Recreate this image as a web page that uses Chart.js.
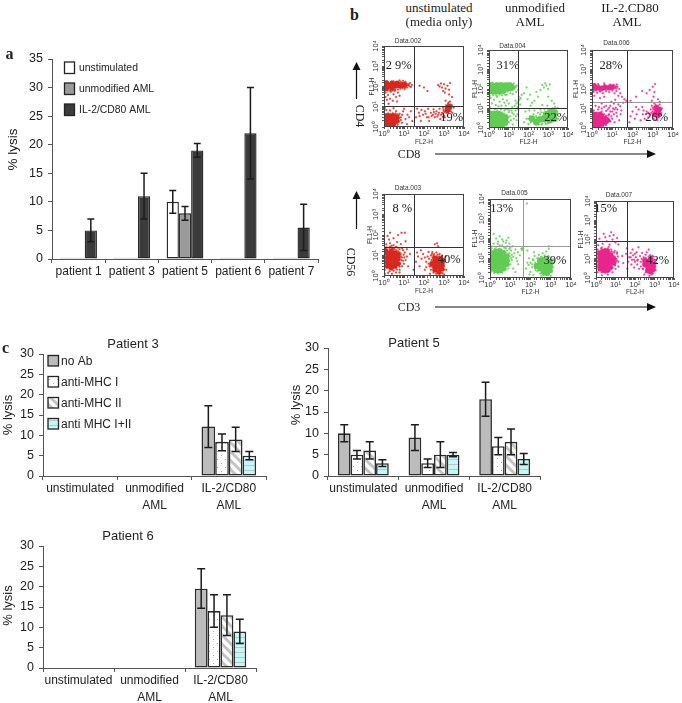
<!DOCTYPE html>
<html><head><meta charset="utf-8">
<script src="https://cdn.jsdelivr.net/npm/chart.js@4"></script>
<style>
html,body{margin:0;padding:0;background:#fff}
#page{position:relative;width:682px;height:703px;overflow:hidden;background:#fff}
canvas{position:absolute}
.t{position:absolute;white-space:nowrap;color:#222;transform:translate(-50%,-50%);line-height:1}
.serif{font-family:"Liberation Serif",serif}
.sans{font-family:"Liberation Sans",sans-serif}
</style></head><body><div id="page"></div>
<script>
// ---------- Panel a ----------
const patientsA = ['patient 1','patient 3','patient 5','patient 6','patient 7'];
const seriesA = ['unstimulated','unmodified AML','IL-2/CD80 AML'];
const unstimA = [0,0,10,0,0];
const unstimALow = [null,null,8,null,null];
const unstimAHigh = [null,null,12,null,null];
const unmodA = [0,0,8,0,0];
const unmodALow = [null,null,6.8,null,null];
const unmodAHigh = [null,null,9.2,null,null];
const il2A = [5,11,19,22,5.5];
const il2ALow = [3,7,17.8,14,1.5];
const il2AHigh = [7,15,20.2,30,9.6];
// ---------- Panel c ----------
const groupsC = ['unstimulated',['unmodified','AML'],['IL-2/CD80','AML']];
const seriesC = ['no Ab','anti-MHC I','anti-MHC II','anti MHC I+II'];
const p3Vals = [[null,null,12.2],[null,null,8.4],[null,null,9],[null,null,5]];
const p3Low  = [[null,null,7],[null,null,6.2],[null,null,6],[null,null,4]];
const p3High = [[null,null,17.3],[null,null,10.3],[null,null,12],[null,null,6]];
const p5Vals = [[10,9,18],[5,3,7],[6,5,8],[3,5,4]];
const p5Low  = [[8,6,14],[4,2,5],[4,2,5],[2.2,4.5,2.7]];
const p5High = [[12,12,22],[6,4,9],[8,8,11],[3.8,5.5,5.3]];
const p6Vals = [[null,null,19.5],[null,null,14],[null,null,13],[null,null,9]];
const p6Low  = [[null,null,14.7],[null,null,10],[null,null,8],[null,null,6]];
const p6High = [[null,null,24.4],[null,null,18],[null,null,18],[null,null,12]];
// ---------- Panel b: flow cytometry events [FL2-H, FL1-H] ----------
const gatesX = [32,28,54,32,45,38];
const gatesY = [10.5,10.5,21,25,43,80];
const core1 = [[1.3,110],[1.9,110],[2.7,110],[3.8,110],[5.4,115],[7.5,115],[10,120],[1.3,80],[2.5,85],[1.3,150],[2.5,140],[4.5,140],[1.3,1.5],[1.3,2.4],[1.3,3.5],[2,1.4],[2,2.4],[2,3.5],[3,1.5],[3,2.5],[3,3.5],[4.2,2],[4.2,3],[1800,10],[1500,7]];
const dots1 = [[16,130],[20,150],[25,120],[14,90],[18,105],[12,170],[9,190],[6,200],[3,180],[1.5,170],[22,95],[11,75],[1.2,50],[1.6,38],[2.2,55],[3,42],[4,30],[2,25],[1.4,22],[2.8,20],[5,50],[3.5,60],[1.2,30],[6,35],[4.5,18],[1.7,14],[5.5,2],[7,3],[8,1.6],[6,4.5],[9,6],[12,2.5],[15,4],[10,8],[4,6],[2,6.5],[1.3,7],[3,8.5],[18,3],[22,6],[1.1,9],[14,1.4],[26,2],[40,3],[55,5],[70,2],[90,4],[110,6],[140,3],[180,2],[220,5],[280,4],[350,3],[420,6],[520,4],[650,2.5],[800,5],[950,7],[1100,3],[1300,5],[1500,9],[1800,6],[2200,8],[2500,12],[1600,14],[2000,18],[1400,11],[2600,5],[3000,9],[45,8],[75,7],[160,8],[300,7.5],[1000,3.5],[600,8],[500,120],[600,100],[800,90],[1000,130],[1200,80],[900,60],[1500,110],[1800,70],[700,140],[2000,150],[100,90],[150,60],[1100,50],[60,110],[1200,20],[2500,30],[1800,40]];
const more1 = [[1.1,70],[1.5,65],[2,62],[2.8,66],[3.6,70],[5,72],[6.5,78],[8.5,85],[11,92],[13,105],[15,115],[17,125],[13,140],[10,155],[7,165],[4.5,170],[2.4,175],[1.2,130],[1.6,140],[3.2,150],[6,150],[8.5,145],[1.1,100],[3.2,90],[6,95],[1.1,1.2],[1.6,1.2],[2.4,1.2],[3.5,1.2],[4.8,1.3],[5.5,1.8],[5.8,2.8],[5.5,3.7],[4.8,4.2],[3.8,4.6],[2.7,4.8],[1.6,4.7],[1.1,4.2],[1.1,2],[7,2.2],[8,4],[60,3.5],[120,4.5],[170,3],[240,3.5],[310,5.5],[380,4.5],[460,3.3],[560,5],[720,4],[870,3.2],[1000,5.5],[1150,6],[1300,8],[1450,6.5],[1600,5],[1750,8.5],[1900,11],[2100,13],[2300,10],[1300,12],[1700,16],[2200,6],[1200,9.5],[900,9],[2000,8]];
const core2 = [[1.3,110],[1.9,110],[2.7,110],[3.8,110],[5.4,115],[7.5,115],[10,115],[14,120],[1.3,80],[2,80],[1.3,150],[2.5,150],[4,150],[7,150],[11,150],[3,80],[5,85],[1.3,1.4],[1.3,2.2],[1.3,3.4],[1.3,5],[2,1.4],[2,2.2],[2,3.4],[2,5],[3,1.4],[3,2.2],[3,3.4],[3,5],[4.5,1.6],[4.5,2.6],[4.5,4],[6.5,2],[6.5,3.4],[250,2],[400,2.8],[600,3],[900,3],[1200,2.5],[1500,4],[1200,5.5],[2000,3],[2000,6],[800,5],[1600,7.5],[150,3]];
const dots2 = [[22,120],[26,150],[30,90],[18,190],[12,60],[8,50],[4,200],[1.5,210],[16,55],[24,70],[1.2,35],[1.8,28],[2.6,40],[3.5,22],[5,30],[1.4,18],[2.2,15],[3,13],[4.2,14],[6,20],[8,26],[7,14],[1.1,12],[10,18],[20,14],[25,18],[30,22],[35,28],[28,12],[38,16],[22,25],[15,12],[32,40],[40,35],[45,50],[10,2],[12,4],[15,6],[18,3],[22,8],[25,2.5],[28,5],[11,8],[9,9],[7,9],[4,9],[2,9],[16,1.5],[30,9],[60,2],[80,3],[100,1.6],[120,4],[150,2.4],[180,5],[220,1.8],[260,3.4],[320,2.2],[380,5],[450,1.5],[520,3],[600,6],[700,2],[800,4],[900,7],[1300,9],[1700,10],[2200,12],[2800,7],[3200,3],[70,7],[110,8],[200,8],[400,9],[650,9],[3000,11],[60,60],[90,30],[120,50],[200,25],[300,40],[400,90],[500,160],[600,120],[700,200],[800,150],[1000,100],[1200,170],[1000,40],[1500,25],[250,70],[150,20],[500,15],[900,14],[2000,18],[80,120],[130,14]];
const more2 = [[1.1,60],[1.5,58],[2.2,55],[3,62],[4,60],[5.5,65],[7,70],[9,75],[12,85],[16,95],[19,110],[22,140],[16,160],[12,175],[8,180],[5,185],[2.5,185],[1.2,190],[1.1,45],[1.6,48],[2.4,46],[3.4,50],[4.6,48],[6.5,50],[1.1,6.5],[1.7,6.8],[2.4,6.6],[3.4,6.7],[4.6,6.2],[5.8,5.4],[7.8,4.6],[8.5,2.8],[7.5,1.4],[5.5,1.2],[3.5,1.15],[9.5,3.6],[10,6.5],[13,2.5],[1.1,8],[2.6,8],[6,8],[14,8],[18,5],[23,4],[100,3],[130,2],[170,3.5],[200,2.5],[240,4],[300,3.2],[330,1.5],[500,1.7],[560,4.2],[700,3.7],[750,1.6],[950,1.7],[1000,4.5],[1100,7],[1400,2.3],[1400,6.5],[1700,2.4],[1800,4.8],[2300,4.5],[2500,2.5],[2500,8],[1900,8.8],[1000,8.5],[450,6.5],[300,6]];
const core3 = [[1.3,110],[2,115],[3,110],[1.3,150],[4.5,125],[7,115],[10,125],[1.4,1.5],[1.4,2.4],[1.4,3.6],[2.1,1.5],[2.1,2.4],[2.1,3.6],[3.1,1.6],[3.1,2.5],[3.1,3.8],[4.5,2],[4.5,3],[6,2.5],[1.4,5],[2.5,5],[1300,5],[1600,8],[1900,5],[1500,11],[2100,9]];
const dots3 = [[14,120],[18,130],[22,100],[1.2,70],[1.8,65],[2.6,75],[3.5,60],[5,80],[7,70],[10,85],[13,60],[16,80],[2,180],[4,190],[8,170],[12,160],[17,170],[25,60],[30,40],[1.3,45],[2.5,35],[4,40],[20,45],[6,9],[8,14],[10,7],[12,18],[15,11],[18,9],[20,16],[25,13],[28,8],[35,20],[40,30],[50,25],[3,10],[5,14],[2,9],[1.2,8],[9,22],[14,28],[1.5,14],[3,18],[7,5],[10,3],[13,2],[17,4],[22,2.5],[26,5],[70,2],[80,4],[100,7],[130,3],[160,5],[200,9],[250,2.5],[320,5],[400,3],[500,7],[600,3.5],[700,5],[800,9],[900,14],[1100,3],[1000,7],[2500,6],[2800,10],[2200,16],[1200,18],[1700,2.5],[300,12],[150,12],[150,40],[300,80],[500,60],[700,90],[1000,130],[1200,70],[1100,40],[1300,180],[900,25],[80,25],[2200,22],[1800,30]];
const more3 = [[1.1,90],[1.6,85],[2.4,80],[3.3,90],[4.5,95],[6,100],[8.5,100],[12,105],[15,140],[11,150],[7,150],[4,155],[2.2,150],[1.1,130],[16,110],[1.1,1.2],[1.8,1.2],[2.6,1.2],[3.6,1.3],[4.8,1.4],[5.5,1.9],[6,3.3],[6.5,4.5],[5,4.3],[4,5],[3.2,5.2],[1.8,6],[1.1,6.5],[3,7],[5,7.5],[8,2.2],[9,4],[8,7],[12,5],[11,10],[7,11],[4,12],[2.2,12],[13,9],[16,6],[1000,5],[1100,9],[1200,12],[1400,4],[1400,7],[1700,5.5],[1800,11],[1800,14],[2000,7],[2300,5],[2300,11],[1400,15],[1000,11],[850,6],[1600,3.5],[2000,3.5],[1300,2.5],[600,6],[450,5],[350,8]];
const core4 = [[1.5,3],[1.5,5],[1.5,8],[1.5,13],[2.3,2.5],[2.3,4],[2.3,7],[2.3,11],[2.3,17],[3.5,3],[3.5,5],[3.5,8],[3.5,13],[5,4],[5,7],[5,11],[1.2,17],[350,2],[350,3.2],[350,5],[350,7.5],[550,1.6],[550,2.7],[550,4.3],[550,6.8],[800,2.2],[800,3.6],[800,5.6],[250,4]];
const dots4 = [[1.1,1.3],[1.6,1.4],[2.5,1.3],[4,1.5],[6,2],[8,3],[10,4],[12,6],[7,12],[9,18],[14,9],[16,3],[1.2,22],[3,22],[5,24],[8,22],[11,14],[2,27],[14,20],[20,12],[6,1.5],[1.3,35],[2,40],[3,32],[4.5,45],[7,36],[1.8,60],[3,70],[5,100],[7.5,130],[11,130],[1.5,90],[12,50],[2,130],[30,2],[40,5],[50,9],[60,3],[75,7],[90,12],[110,2],[130,5],[150,9],[170,15],[190,3],[45,14],[70,18],[220,10],[260,15],[320,12],[420,14],[600,12],[800,10],[1000,3],[1100,6],[1200,9],[1300,2],[1000,1.2],[200,1.3],[350,35],[450,40],[500,28]];
const more4 = [[1.1,2],[1.1,4],[1.1,7],[1.1,11],[1.4,19],[1.8,24],[2.6,23],[3.4,20],[4.2,18],[5,16],[6,14],[6.8,9],[7.2,6],[6.6,4],[6,2.8],[4.4,2.1],[3,1.8],[1.9,1.7],[8,8],[9,5.5],[4,27],[6,20],[9.5,11],[10.5,8],[1.3,25],[2.4,30],[220,2],[240,6],[270,8],[280,2.6],[300,1.5],[300,10],[400,1.3],[430,9],[480,11],[600,9],[700,1.4],[700,8],[850,1.4],[950,2],[950,4.5],[950,7],[600,1.2],[1050,5],[220,3],[170,4],[180,7],[130,2.7],[110,8],[250,12]];
const core5 = [[1.3,3],[1.3,5],[1.3,8],[1.3,12],[1.3,18],[2,2.5],[2,4],[2,6.5],[2,10],[2,15],[2,22],[3,2.5],[3,4],[3,6.5],[3,10],[3,15],[3,22],[4.5,3],[4.5,5],[4.5,8],[4.5,12],[4.5,18],[6.5,5],[6.5,8],[6.5,12],[300,3],[300,5],[300,7.5],[450,2],[450,3],[450,5],[450,8],[650,1.8],[650,2.8],[650,4.5],[650,7],[900,2.5],[900,4],[200,4],[900,6.5]];
const dots5 = [[8,3],[10,5],[12,8],[14,12],[16,18],[9,18],[11,25],[7,25],[1.2,32],[2,38],[3,30],[4,45],[5,35],[7,40],[10,35],[1.5,55],[2.5,70],[4,90],[6,60],[9,55],[13,40],[2,100],[3,130],[1.5,170],[18,28],[24,20],[30,14],[35,30],[40,32],[38,26],[20,10],[25,5],[14,3],[18,2],[22,7],[60,3],[70,6],[85,10],[100,2],[120,5],[140,8],[160,13],[180,2.5],[220,10],[260,15],[330,12],[400,18],[500,14],[650,11],[800,12],[1000,8],[1200,5],[1100,2],[1000,1.3],[150,20],[600,22],[800,30],[350,1.3],[140,1.4],[70,25],[90,1.5],[800,40],[66,6000]];
const more5 = [[1.1,2],[1.1,26],[1.7,29],[2.6,28],[3.6,27],[5,24],[6,19],[7.8,16],[8.2,9],[9,7],[8,4.5],[6,2.8],[4,1.9],[2.5,1.7],[1.6,1.8],[9.5,13],[11,10],[12,15],[6,32],[9,30],[1.1,40],[3,45],[2.4,55],[4.5,70],[6.5,80],[8,110],[170,3],[170,6],[220,2.2],[230,7],[250,10],[300,1.7],[330,9.5],[400,11],[450,1.4],[520,10],[650,9],[780,1.5],[800,8.5],[1000,2],[1050,3.3],[1100,5],[1000,7],[1300,3.5],[1400,6],[750,13],[1300,9],[120,3.5],[130,9],[100,6],[80,4.5]];
const core6 = [[1.6,3],[1.6,5],[1.6,8],[1.6,13],[1.6,20],[2.5,2.5],[2.5,4],[2.5,6.5],[2.5,10],[2.5,16],[2.5,25],[3.8,2.5],[3.8,4],[3.8,6.5],[3.8,10],[3.8,16],[3.8,25],[5.5,3.5],[5.5,6],[5.5,10],[5.5,16],[8,6],[8,10],[450,2.5],[450,4],[450,6.5],[650,2.2],[650,3.5],[650,5.5],[650,9],[850,3],[850,5],[320,5],[320,8]];
const dots6 = [[1.2,2],[1.2,30],[2,38],[3,32],[4.5,42],[6,30],[9,25],[12,18],[12,8],[14,4],[10,3],[7,2],[4,1.5],[2,1.4],[1.3,50],[2.2,60],[3.5,80],[5,55],[7,100],[10,70],[14,55],[1.5,110],[3,130],[5,150],[8,170],[12,120],[2.5,200],[6,240],[40,3],[45,7],[50,12],[60,20],[65,5],[70,9],[75,30],[80,15],[90,3.5],[100,7],[110,12],[120,22],[130,5],[140,9],[150,40],[160,3],[180,14],[200,7],[230,20],[250,3],[280,12],[350,16],[400,22],[500,13],[600,15],[700,2],[800,14],[1000,8],[1100,4],[1200,6],[300,1.5],[550,1.3],[500,30],[35,18],[38,35],[25,6],[22,14]];
const more6 = [[1.2,4],[1.2,7],[1.2,11],[1.2,17],[1.2,24],[1.9,28],[3,30],[4.6,28],[5.5,22],[7,18],[8,14],[9.5,12],[10.5,7],[9.5,4.5],[7,3.5],[5,2.3],[3,1.9],[1.9,2],[6.5,24],[8.5,21],[1.8,34],[4,34],[11,10],[13,13],[12,22],[14,7],[260,3],[270,6],[280,9],[350,2],[360,11],[400,3],[450,9],[500,1.8],[550,8],[560,11],[700,1.5],[730,8],[750,12],[800,1.7],[950,2.2],[1000,4],[1050,6.5],[950,9],[1150,2.5],[1200,9],[650,13],[200,4],[220,10],[130,8],[90,9],[60,12],[100,18]];

const page = document.getElementById('page');
const SANS = '"Liberation Sans",Arial,sans-serif';
Chart.defaults.font.family = SANS;
Chart.defaults.color = '#222';
Chart.defaults.animation = false;

function text(str,x,y,size,cls,opts){
  const d=document.createElement('div');
  d.className='t '+cls; d.textContent=str;
  d.style.left=x+'px'; d.style.top=y+'px'; d.style.fontSize=size+'px';
  if(opts&&opts.rot!==undefined) d.style.transform='translate(-50%,-50%) rotate('+opts.rot+'deg)';
  if(opts&&opts.bold) d.style.fontWeight='bold';
  page.appendChild(d);
}
function addCanvas(l,t,w,h){
  const c=document.createElement('canvas');
  c.width=w;c.height=h;c.style.left=l+'px';c.style.top=t+'px';c.style.width=w+'px';c.style.height=h+'px';
  page.appendChild(c);return c;
}
function tile(w,h,paint){
  const c=document.createElement('canvas');c.width=w;c.height=h;
  const g=c.getContext('2d');paint(g,w,h);
  return g.createPattern(c,'repeat');
}
const patDots = tile(8,8,(g,w,h)=>{g.fillStyle='#fff';g.fillRect(0,0,w,h);g.fillStyle='#aaa';g.fillRect(1,1,1,1);g.fillRect(5,5,1,1);});
const patDiag = tile(9,9,(g,w,h)=>{g.fillStyle='#fff';g.fillRect(0,0,w,h);g.strokeStyle='#c4c4c4';g.lineWidth=3;
  [[-9,-9,18,18],[-9,0,9,18],[0,-9,18,9]].forEach(a=>{g.beginPath();g.moveTo(a[0],a[1]);g.lineTo(a[2],a[3]);g.stroke();});});
const patCyan = tile(4,5,(g,w,h)=>{g.fillStyle='#c6f7f7';g.fillRect(0,0,w,h);g.fillStyle='#b9c6c8';g.fillRect(0,2,w,1);});

const errorBars = {id:'errorBars',afterDatasetsDraw(chart,_a,o){
  const ctx=chart.ctx,y=chart.scales.y;
  ctx.save();ctx.strokeStyle='#1c1c1c';ctx.lineWidth=o.width;
  chart.data.datasets.forEach((ds,i)=>{
    const meta=chart.getDatasetMeta(i);
    meta.data.forEach((el,j)=>{
      const lo=ds.errLow[j],hi=ds.errHigh[j];
      if(lo==null||hi==null) return;
      const a=y.getPixelForValue(lo),b=y.getPixelForValue(hi),x=el.x,c=o.cap/2;
      ctx.beginPath();ctx.moveTo(x,a);ctx.lineTo(x,b);
      ctx.moveTo(x-c,a);ctx.lineTo(x+c,a);ctx.moveTo(x-c,b);ctx.lineTo(x+c,b);ctx.stroke();
    });
  });
  ctx.restore();
}};
const insetLegend = {id:'insetLegend',afterDraw(chart,_a,o){
  if(!o.show) return;
  const ctx=chart.ctx,a=chart.chartArea;
  ctx.save();ctx.font=o.size+'px '+SANS;ctx.textBaseline='middle';ctx.fillStyle='#222';
  chart.data.datasets.forEach((ds,i)=>{
    const x=a.left+o.dx,y=a.top+o.dy+i*o.step;
    ctx.fillStyle=ds.legendFill;ctx.fillRect(x,y,o.w,o.h);
    ctx.strokeStyle='#222';ctx.lineWidth=1.3;ctx.strokeRect(x,y,o.w,o.h);
    ctx.fillStyle='#222';ctx.fillText(ds.label,x+o.w+o.gap,y+o.h/2+0.5);
  });
  ctx.restore();
}};
const yLabel = {id:'yLabel',afterDraw(chart,_a,o){
  const ctx=chart.ctx;
  ctx.save();ctx.translate(o.x,o.y);ctx.rotate(-Math.PI/2);
  ctx.font=o.size+'px '+SANS;ctx.fillStyle='#222';ctx.textAlign='center';ctx.textBaseline='middle';
  ctx.fillText('% lysis',0,0);ctx.restore();
}};

function barChart(b){
  const ml=b.L-b.cl, mr=b.cl+b.cw-b.R, mb=b.ct+b.ch-b.B;
  const titleH=b.title?13:0;
  const fix=(dim,val)=>s=>{s[dim]=val;s.paddingLeft=s.paddingRight=s.paddingTop=s.paddingBottom=0;};
  new Chart(addCanvas(b.cl,b.ct,b.cw,b.ch),{
    type:'bar',
    data:{labels:b.labels,datasets:b.datasets},
    plugins:[errorBars,insetLegend,yLabel],
    options:{
      responsive:false,maintainAspectRatio:false,
      layout:{padding:{left:0,bottom:0,right:mr,top:b.title?0:b.T-b.ct}},
      plugins:{
        legend:{display:false},tooltip:{enabled:false},
        title:b.title?{display:true,text:b.title,font:{size:13,weight:'normal',lineHeight:1},color:'#222',padding:{top:0,bottom:b.T-b.ct-titleH}}:{display:false},
        errorBars:{width:1.5,cap:b.cap},
        insetLegend:b.legend||{show:false},
        yLabel:{x:b.yl[0]-b.cl,y:b.yl[1]-b.ct,size:b.yl[2]}
      },
      datasets:{bar:{categoryPercentage:b.catPct,barPercentage:1}},
      scales:{
        x:{type:'category',offset:true,
          grid:{offset:true,drawOnChartArea:false,drawTicks:true,tickLength:4,color:'#555'},
          border:{color:'#555',width:1},
          ticks:{font:{size:12,lineHeight:1.36},color:'#222',padding:1,maxRotation:0,autoSkip:false},
          afterFit:fix('height',mb)},
        y:{min:0,max:b.max,
          grid:{drawOnChartArea:false,drawTicks:true,tickLength:4,color:'#555'},
          border:{color:'#555',width:1},
          ticks:{stepSize:5,font:{size:12.5},color:'#222',padding:5},
          afterFit:fix('width',ml)}
      }
    }
  });
}
const stroke='#2a2a2a';
function aDataset(label,vals,low,high,fill){
  return {label,data:vals,errLow:low,errHigh:high,legendFill:fill,
    backgroundColor:c=>c.raw===0?'#c8c8c8':fill,
    borderColor:stroke,borderWidth:c=>c.raw===0?0:1.4,borderSkipped:false,minBarLength:1.2};
}
barChart({cl:0,ct:40,cw:340,ch:245,L:52,R:318,T:59,B:259,max:35,catPct:0.69,cap:7,labels:patientsA,yl:[13,149.5,13.5],
  legend:{show:true,dx:12.5,dy:3,step:21,w:10,h:11.5,size:10.4,gap:4.5},
  datasets:[aDataset(seriesA[0],unstimA,unstimALow,unstimAHigh,'#fff'),
            aDataset(seriesA[1],unmodA,unmodALow,unmodAHigh,'#9a9a9a'),
            aDataset(seriesA[2],il2A,il2ALow,il2AHigh,'#3b3b3b')]});

const fillsC=['#bcbcbc',patDots,patDiag,patCyan];
function cDatasets(v,l,h){return seriesC.map((s,i)=>({label:s,data:v[i],errLow:l[i],errHigh:h[i],legendFill:fillsC[i],
  backgroundColor:fillsC[i],borderColor:stroke,borderWidth:1.6,borderSkipped:false}));}
barChart({cl:0,ct:338,cw:307,ch:182,L:43,R:266,T:354,B:476,max:30,catPct:0.735,cap:8,labels:groupsC,title:'Patient 3',yl:[8,415,13],
  legend:{show:true,dx:5,dy:1.5,step:21,w:10.5,h:10.5,size:12,gap:2.5},
  datasets:cDatasets(p3Vals,p3Low,p3High)});
barChart({cl:288,ct:337,cw:282,ch:183,L:328,R:540,T:348,B:476,max:30,catPct:0.72,cap:8,labels:groupsC,title:'Patient 5',yl:[296,405,13],
  datasets:cDatasets(p5Vals,p5Low,p5High)});
barChart({cl:0,ct:530,cw:270,ch:173,L:43,R:256,T:546,B:668,max:30,catPct:0.725,cap:8,labels:groupsC,title:'Patient 6',yl:[8,605.5,13],
  datasets:cDatasets(p6Vals,p6Low,p6High)});

// ---------- dot plots ----------
const gatePlugin={id:'gates',afterDatasetsDraw(chart,_a,o){
  const {ctx,chartArea:a,scales:{x,y}}=chart;
  ctx.save();ctx.lineWidth=1;
  ctx.strokeStyle=o.hc;ctx.beginPath();const py=Math.round(y.getPixelForValue(o.gy))+.5;ctx.moveTo(a.left,py);ctx.lineTo(a.right,py);ctx.stroke();
  ctx.strokeStyle=o.vc;ctx.beginPath();const px=Math.round(x.getPixelForValue(o.gx))+.5;ctx.moveTo(px,a.top);ctx.lineTo(px,a.bottom);ctx.stroke();
  ctx.strokeStyle='#444';ctx.strokeRect(a.left+.5,a.top+.5,a.width-1,a.height-1);
  ctx.restore();
}};
const POW={1:'10⁰',10:'10¹',100:'10²',1000:'10³',10000:'10⁴'};
const toXY=a=>a.map(p=>({x:p[0],y:p[1]}));
function dotPlot(p){
  const FS=7.5, TF=6.5;
  const cl=p.L-32, cw=2*Math.round(p.tc-cl), ct=p.T-14, ch=p.B-ct+24;
  const mr=cl+cw-p.R;
  const padTop=p.ty-ct-TF/2, padBottom=p.T-ct-TF-padTop;
  const fix=(dim,val)=>s=>{s[dim]=val;s.paddingLeft=s.paddingRight=s.paddingTop=s.paddingBottom=0;};
  const tick={font:{size:FS,lineHeight:1},color:'#333',autoSkip:false,callback:v=>POW[v]||''};
  new Chart(addCanvas(cl,ct,cw,ch),{
    type:'scatter',
    data:{datasets:[
      {label:'events',data:toXY(p.dots.concat(p.more)),backgroundColor:p.color+'d8',borderColor:p.color+'30',pointRadius:1,pointBorderWidth:1},
      {label:'dense events',data:toXY(p.core),backgroundColor:p.color,borderColor:p.color+'30',pointRadius:p.r,pointBorderWidth:1}]},
    plugins:[gatePlugin],
    options:{
      responsive:false,maintainAspectRatio:false,
      layout:{padding:{left:0,bottom:0,right:mr,top:0}},
      plugins:{legend:{display:false},tooltip:{enabled:false},
        title:{display:true,text:p.title,font:{size:TF,weight:'normal',lineHeight:1},color:'#333',padding:{top:padTop,bottom:padBottom}},
        gates:{gx:p.gx,gy:p.gy,vc:p.vc,hc:p.hc}},
      scales:{
        x:{type:'logarithmic',min:1,max:10000,
          grid:{drawOnChartArea:false,tickLength:2,color:'#555'},border:{display:false},
          ticks:{...tick,maxRotation:0,padding:1},
          title:{display:true,text:'FL2-H',font:{size:TF,lineHeight:1},color:'#333',padding:{top:0,bottom:24-p.xt-TF/2}},
          afterFit:fix('height',24)},
        y:{type:'logarithmic',min:1,max:10000,
          grid:{drawOnChartArea:false,tickLength:2,color:'#555'},border:{display:false},
          ticks:{...tick,minRotation:90,maxRotation:90,crossAlign:'center',padding:0},
          title:{display:true,text:'FL1-H',font:{size:TF,lineHeight:1},color:'#333',padding:{top:p.yt-cl-TF/2,bottom:0}},
          afterFit:fix('width',32)}
      }
    }
  });
}
const RED='#d8281e',GREEN='#62cc54',PINK='#e8268c',LINE='#333',SOFT='#999';
dotPlot({L:384,R:464,T:46,B:127,tc:418,ty:41,xt:15,yt:372,r:2.8,title:'Data.002',color:RED,dots:dots1,more:more1,core:core1,gx:gatesX[0],gy:gatesY[0],vc:LINE,hc:LINE});
dotPlot({L:489,R:568,T:50,B:128,tc:522,ty:46,xt:14,yt:475,r:3.3,title:'Data.004',color:GREEN,dots:dots2,more:more2,core:core2,gx:gatesX[1],gy:gatesY[1],vc:LINE,hc:LINE});
dotPlot({L:592,R:673,T:50,B:128,tc:626,ty:43,xt:14,yt:576,r:2.6,title:'Data.006',color:PINK,dots:dots3,more:more3,core:core3,gx:gatesX[2],gy:gatesY[2],vc:LINE,hc:SOFT});
dotPlot({L:384,R:464,T:194,B:276,tc:418,ty:188,xt:15.5,yt:370,r:2.6,title:'Data.003',color:RED,dots:dots4,more:more4,core:core4,gx:gatesX[3],gy:gatesY[3],vc:LINE,hc:LINE});
dotPlot({L:490,R:571,T:199,B:278,tc:524,ty:193,xt:14,yt:475,r:3,title:'Data.005',color:GREEN,dots:dots5,more:more5,core:core5,gx:gatesX[4],gy:gatesY[4],vc:SOFT,hc:SOFT});
dotPlot({L:596,R:674,T:201,B:278,tc:629,ty:195,xt:14,yt:581,r:2.6,title:'Data.007',color:PINK,dots:dots6,more:more6,core:core6,gx:gatesX[5],gy:gatesY[5],vc:LINE,hc:LINE});

// ---------- annotations ----------
text('a',9.5,54,16,'serif',{bold:true});
text('b',354.5,15,16,'serif',{bold:true});
text('c',5.5,348,16,'serif',{bold:true});
[['unstimulated',439,7],['(media only)',439,21],['unmodified',535,7],['AML',530,21],['IL-2.CD80',630,7],['AML',627,21]]
  .forEach(a=>text(a[0],a[1],a[2],13,'serif'));
[['2 9%',398.7,65],['19%',451.7,117],['31%',508,65],['22%',555.7,117],['28%',611,65],['26%',656.7,117],
 ['8 %',402.3,207.7],['40%',449.3,259],['13%',501.7,207.7],['39%',555,259.7],['15%',605.7,207.7],['42%',657.7,259.7]]
  .forEach(a=>text(a[0],a[1],a[2],12.5,'serif'));
text('CD8',409,154,12,'serif');
text('CD3',409,307,12,'serif');
text('CD4',360,115.5,12,'serif',{rot:90});
text('CD56',351,262,12,'serif',{rot:90});
const svgNS='http://www.w3.org/2000/svg';
const svg=document.createElementNS(svgNS,'svg');
svg.setAttribute('width',682);svg.setAttribute('height',703);
svg.style.cssText='position:absolute;left:0;top:0;pointer-events:none';
svg.innerHTML=
 '<g fill="#111" stroke="#111">'+
 '<path d="M435 154H650" stroke-width="1.2"/><path d="M647 150L656 154L647 158Z" stroke="none"/>'+
 '<path d="M435 307H650" stroke-width="1.2"/><path d="M647 303L656 307L647 311Z" stroke="none"/>'+
 '<path d="M356.5 99V68" stroke-width="1.2"/><path d="M352.5 70L356.5 62L360.5 70Z" stroke="none"/>'+
 '<path d="M356.5 229V197" stroke-width="1.2"/><path d="M352.5 199L356.5 191L360.5 199Z" stroke="none"/>'+
 '</g>';
page.appendChild(svg);
</script></body></html>
